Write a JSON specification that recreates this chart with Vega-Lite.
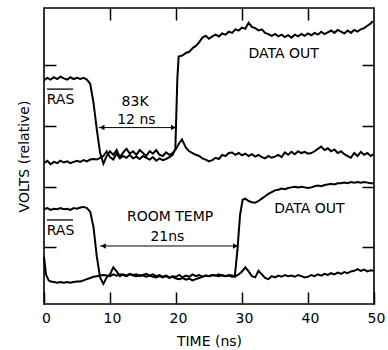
{
 "$schema": "https://vega.github.io/schema/vega-lite/v6.json",
 "width": 330, "height": 296,
 "autosize": {"type": "none"},
 "padding": {"left": 44, "top": 8, "right": 14, "bottom": 46},
 "background": "white",
 "config": {
  "view": {"stroke": "black", "strokeWidth": 1.6},
  "font": "DejaVu Sans",
  "axis": {"grid": false, "domain": false, "tickColor": "black", "tickWidth": 1.5, "tickSize": -12,
           "labelColor": "black", "labelFontSize": 14, "titleColor": "black", "titleFontSize": 14, "titleFontWeight": "normal"}
 },
 "datasets": {
  "traces": [
   {"s":"UR","t":0,"v":3.78},{"s":"UR","t":0.5,"v":3.82},{"s":"UR","t":1,"v":3.79},{"s":"UR","t":1.5,"v":3.83},{"s":"UR","t":2,"v":3.80},{"s":"UR","t":2.5,"v":3.84},{"s":"UR","t":3,"v":3.81},{"s":"UR","t":3.5,"v":3.79},{"s":"UR","t":4,"v":3.83},{"s":"UR","t":4.5,"v":3.80},{"s":"UR","t":5,"v":3.82},{"s":"UR","t":5.5,"v":3.80},{"s":"UR","t":6,"v":3.82},{"s":"UR","t":6.5,"v":3.79},{"s":"UR","t":7,"v":3.72},{"s":"UR","t":7.5,"v":3.40},{"s":"UR","t":8,"v":2.95},{"s":"UR","t":8.5,"v":2.55},{"s":"UR","t":9,"v":2.37},{"s":"UR","t":9.5,"v":2.50},{"s":"UR","t":10,"v":2.58},{"s":"UR","t":10.5,"v":2.52},{"s":"UR","t":11,"v":2.60},{"s":"UR","t":11.5,"v":2.48},{"s":"UR","t":12,"v":2.56},{"s":"UR","t":12.5,"v":2.62},{"s":"UR","t":13,"v":2.54},{"s":"UR","t":13.5,"v":2.58},{"s":"UR","t":14,"v":2.52},{"s":"UR","t":14.5,"v":2.60},{"s":"UR","t":15,"v":2.55},{"s":"UR","t":15.5,"v":2.50},{"s":"UR","t":16,"v":2.58},{"s":"UR","t":16.5,"v":2.54},{"s":"UR","t":17,"v":2.60},{"s":"UR","t":17.5,"v":2.52},{"s":"UR","t":18,"v":2.50},{"s":"UR","t":18.5,"v":2.56},{"s":"UR","t":19,"v":2.52},{"s":"UR","t":19.5,"v":2.55},{"s":"UR","t":20,"v":2.62},{"s":"UR","t":20.5,"v":2.72},{"s":"UR","t":20.9,"v":2.78},{"s":"UR","t":21.5,"v":2.64},{"s":"UR","t":22,"v":2.58},{"s":"UR","t":22.5,"v":2.55},{"s":"UR","t":23,"v":2.52},{"s":"UR","t":23.5,"v":2.50},{"s":"UR","t":24,"v":2.46},{"s":"UR","t":24.5,"v":2.44},{"s":"UR","t":25,"v":2.41},{"s":"UR","t":25.5,"v":2.43},{"s":"UR","t":26,"v":2.47},{"s":"UR","t":26.5,"v":2.45},{"s":"UR","t":27,"v":2.52},{"s":"UR","t":27.5,"v":2.50},{"s":"UR","t":28,"v":2.55},{"s":"UR","t":28.5,"v":2.56},{"s":"UR","t":29,"v":2.52},{"s":"UR","t":29.5,"v":2.55},{"s":"UR","t":30,"v":2.51},{"s":"UR","t":30.5,"v":2.54},{"s":"UR","t":31,"v":2.50},{"s":"UR","t":31.5,"v":2.53},{"s":"UR","t":32,"v":2.49},{"s":"UR","t":32.5,"v":2.52},{"s":"UR","t":33,"v":2.48},{"s":"UR","t":33.5,"v":2.46},{"s":"UR","t":34,"v":2.50},{"s":"UR","t":34.5,"v":2.47},{"s":"UR","t":35,"v":2.49},{"s":"UR","t":35.5,"v":2.52},{"s":"UR","t":36,"v":2.48},{"s":"UR","t":36.5,"v":2.56},{"s":"UR","t":37,"v":2.52},{"s":"UR","t":37.5,"v":2.57},{"s":"UR","t":38,"v":2.53},{"s":"UR","t":38.5,"v":2.58},{"s":"UR","t":39,"v":2.55},{"s":"UR","t":39.5,"v":2.57},{"s":"UR","t":40,"v":2.54},{"s":"UR","t":40.5,"v":2.55},{"s":"UR","t":41,"v":2.58},{"s":"UR","t":41.5,"v":2.62},{"s":"UR","t":42,"v":2.66},{"s":"UR","t":42.5,"v":2.60},{"s":"UR","t":43,"v":2.63},{"s":"UR","t":43.5,"v":2.58},{"s":"UR","t":44,"v":2.61},{"s":"UR","t":44.5,"v":2.55},{"s":"UR","t":45,"v":2.58},{"s":"UR","t":45.5,"v":2.53},{"s":"UR","t":46,"v":2.50},{"s":"UR","t":46.5,"v":2.47},{"s":"UR","t":47,"v":2.55},{"s":"UR","t":47.5,"v":2.50},{"s":"UR","t":48,"v":2.57},{"s":"UR","t":48.5,"v":2.52},{"s":"UR","t":49,"v":2.55},{"s":"UR","t":49.5,"v":2.50},{"s":"UR","t":49.9,"v":2.53},

   {"s":"UD","t":0,"v":2.38},{"s":"UD","t":0.5,"v":2.42},{"s":"UD","t":1,"v":2.36},{"s":"UD","t":1.5,"v":2.40},{"s":"UD","t":2,"v":2.38},{"s":"UD","t":2.5,"v":2.42},{"s":"UD","t":3,"v":2.39},{"s":"UD","t":3.5,"v":2.41},{"s":"UD","t":4,"v":2.38},{"s":"UD","t":4.5,"v":2.40},{"s":"UD","t":5,"v":2.42},{"s":"UD","t":5.5,"v":2.40},{"s":"UD","t":6,"v":2.43},{"s":"UD","t":6.5,"v":2.41},{"s":"UD","t":7,"v":2.44},{"s":"UD","t":7.5,"v":2.45},{"s":"UD","t":8,"v":2.44},{"s":"UD","t":8.5,"v":2.47},{"s":"UD","t":9,"v":2.50},{"s":"UD","t":9.5,"v":2.58},{"s":"UD","t":10,"v":2.48},{"s":"UD","t":10.5,"v":2.44},{"s":"UD","t":11,"v":2.54},{"s":"UD","t":11.5,"v":2.46},{"s":"UD","t":12,"v":2.50},{"s":"UD","t":12.5,"v":2.47},{"s":"UD","t":13,"v":2.52},{"s":"UD","t":13.5,"v":2.46},{"s":"UD","t":14,"v":2.49},{"s":"UD","t":14.5,"v":2.45},{"s":"UD","t":15,"v":2.50},{"s":"UD","t":15.5,"v":2.47},{"s":"UD","t":16,"v":2.44},{"s":"UD","t":16.5,"v":2.48},{"s":"UD","t":17,"v":2.42},{"s":"UD","t":17.5,"v":2.46},{"s":"UD","t":18,"v":2.43},{"s":"UD","t":18.5,"v":2.45},{"s":"UD","t":19,"v":2.48},{"s":"UD","t":19.5,"v":2.52},{"s":"UD","t":19.9,"v":2.62},{"s":"UD","t":20.2,"v":3.80},{"s":"UD","t":20.4,"v":4.18},{"s":"UD","t":21,"v":4.20},{"s":"UD","t":21.5,"v":4.24},{"s":"UD","t":22,"v":4.26},{"s":"UD","t":22.5,"v":4.32},{"s":"UD","t":23,"v":4.36},{"s":"UD","t":23.5,"v":4.42},{"s":"UD","t":24,"v":4.50},{"s":"UD","t":24.5,"v":4.53},{"s":"UD","t":25,"v":4.48},{"s":"UD","t":25.5,"v":4.52},{"s":"UD","t":26,"v":4.55},{"s":"UD","t":26.5,"v":4.52},{"s":"UD","t":27,"v":4.57},{"s":"UD","t":27.5,"v":4.55},{"s":"UD","t":28,"v":4.60},{"s":"UD","t":28.5,"v":4.58},{"s":"UD","t":29,"v":4.64},{"s":"UD","t":29.5,"v":4.62},{"s":"UD","t":30,"v":4.67},{"s":"UD","t":30.5,"v":4.65},{"s":"UD","t":31,"v":4.75},{"s":"UD","t":31.5,"v":4.68},{"s":"UD","t":32,"v":4.66},{"s":"UD","t":32.5,"v":4.62},{"s":"UD","t":33,"v":4.64},{"s":"UD","t":33.5,"v":4.58},{"s":"UD","t":34,"v":4.56},{"s":"UD","t":34.5,"v":4.53},{"s":"UD","t":35,"v":4.56},{"s":"UD","t":35.5,"v":4.52},{"s":"UD","t":36,"v":4.55},{"s":"UD","t":36.5,"v":4.51},{"s":"UD","t":37,"v":4.54},{"s":"UD","t":37.5,"v":4.50},{"s":"UD","t":38,"v":4.55},{"s":"UD","t":38.5,"v":4.52},{"s":"UD","t":39,"v":4.56},{"s":"UD","t":39.5,"v":4.53},{"s":"UD","t":40,"v":4.57},{"s":"UD","t":40.5,"v":4.54},{"s":"UD","t":41,"v":4.58},{"s":"UD","t":41.5,"v":4.55},{"s":"UD","t":42,"v":4.60},{"s":"UD","t":42.5,"v":4.56},{"s":"UD","t":43,"v":4.59},{"s":"UD","t":43.5,"v":4.62},{"s":"UD","t":44,"v":4.58},{"s":"UD","t":44.5,"v":4.63},{"s":"UD","t":45,"v":4.60},{"s":"UD","t":45.5,"v":4.57},{"s":"UD","t":46,"v":4.62},{"s":"UD","t":46.5,"v":4.58},{"s":"UD","t":47,"v":4.63},{"s":"UD","t":47.5,"v":4.60},{"s":"UD","t":48,"v":4.64},{"s":"UD","t":48.5,"v":4.66},{"s":"UD","t":49,"v":4.70},{"s":"UD","t":49.5,"v":4.74},{"s":"UD","t":49.8,"v":4.78},

   {"s":"LR","t":0,"v":1.60},{"s":"LR","t":0.5,"v":1.62},{"s":"LR","t":1,"v":1.59},{"s":"LR","t":1.5,"v":1.61},{"s":"LR","t":2,"v":1.60},{"s":"LR","t":2.5,"v":1.62},{"s":"LR","t":3,"v":1.60},{"s":"LR","t":3.5,"v":1.61},{"s":"LR","t":4,"v":1.59},{"s":"LR","t":4.5,"v":1.62},{"s":"LR","t":5,"v":1.61},{"s":"LR","t":5.5,"v":1.63},{"s":"LR","t":6,"v":1.64},{"s":"LR","t":6.5,"v":1.62},{"s":"LR","t":7,"v":1.56},{"s":"LR","t":7.5,"v":1.30},{"s":"LR","t":8,"v":0.80},{"s":"LR","t":8.5,"v":0.45},{"s":"LR","t":9,"v":0.34},{"s":"LR","t":9.5,"v":0.45},{"s":"LR","t":10,"v":0.50},{"s":"LR","t":10.5,"v":0.62},{"s":"LR","t":11,"v":0.55},{"s":"LR","t":11.5,"v":0.47},{"s":"LR","t":12,"v":0.50},{"s":"LR","t":12.5,"v":0.48},{"s":"LR","t":13,"v":0.51},{"s":"LR","t":13.5,"v":0.49},{"s":"LR","t":14,"v":0.50},{"s":"LR","t":14.5,"v":0.47},{"s":"LR","t":15,"v":0.49},{"s":"LR","t":15.5,"v":0.51},{"s":"LR","t":16,"v":0.48},{"s":"LR","t":16.5,"v":0.50},{"s":"LR","t":17,"v":0.47},{"s":"LR","t":17.5,"v":0.49},{"s":"LR","t":18,"v":0.46},{"s":"LR","t":18.5,"v":0.48},{"s":"LR","t":19,"v":0.45},{"s":"LR","t":19.5,"v":0.47},{"s":"LR","t":20,"v":0.46},{"s":"LR","t":20.5,"v":0.49},{"s":"LR","t":21,"v":0.45},{"s":"LR","t":21.5,"v":0.48},{"s":"LR","t":22,"v":0.46},{"s":"LR","t":22.5,"v":0.50},{"s":"LR","t":23,"v":0.47},{"s":"LR","t":23.5,"v":0.49},{"s":"LR","t":24,"v":0.46},{"s":"LR","t":24.5,"v":0.48},{"s":"LR","t":25,"v":0.47},{"s":"LR","t":25.5,"v":0.49},{"s":"LR","t":26,"v":0.48},{"s":"LR","t":26.5,"v":0.47},{"s":"LR","t":27,"v":0.49},{"s":"LR","t":27.5,"v":0.47},{"s":"LR","t":28,"v":0.48},{"s":"LR","t":28.5,"v":0.46},{"s":"LR","t":29,"v":0.47},{"s":"LR","t":29.5,"v":0.50},{"s":"LR","t":30,"v":0.55},{"s":"LR","t":30.5,"v":0.62},{"s":"LR","t":31,"v":0.55},{"s":"LR","t":31.5,"v":0.47},{"s":"LR","t":32,"v":0.45},{"s":"LR","t":32.5,"v":0.56},{"s":"LR","t":33,"v":0.50},{"s":"LR","t":33.5,"v":0.44},{"s":"LR","t":34,"v":0.42},{"s":"LR","t":34.5,"v":0.47},{"s":"LR","t":35,"v":0.45},{"s":"LR","t":35.5,"v":0.48},{"s":"LR","t":36,"v":0.46},{"s":"LR","t":36.5,"v":0.49},{"s":"LR","t":37,"v":0.47},{"s":"LR","t":37.5,"v":0.48},{"s":"LR","t":38,"v":0.46},{"s":"LR","t":38.5,"v":0.49},{"s":"LR","t":39,"v":0.47},{"s":"LR","t":39.5,"v":0.45},{"s":"LR","t":40,"v":0.46},{"s":"LR","t":40.5,"v":0.49},{"s":"LR","t":41,"v":0.47},{"s":"LR","t":41.5,"v":0.50},{"s":"LR","t":42,"v":0.48},{"s":"LR","t":42.5,"v":0.51},{"s":"LR","t":43,"v":0.49},{"s":"LR","t":43.5,"v":0.52},{"s":"LR","t":44,"v":0.50},{"s":"LR","t":44.5,"v":0.53},{"s":"LR","t":45,"v":0.51},{"s":"LR","t":45.5,"v":0.54},{"s":"LR","t":46,"v":0.52},{"s":"LR","t":46.5,"v":0.55},{"s":"LR","t":47,"v":0.56},{"s":"LR","t":47.5,"v":0.59},{"s":"LR","t":48,"v":0.56},{"s":"LR","t":48.5,"v":0.58},{"s":"LR","t":49,"v":0.55},{"s":"LR","t":49.5,"v":0.57},{"s":"LR","t":49.9,"v":0.56},

   {"s":"LD","t":0,"v":0.80},{"s":"LD","t":0.3,"v":0.50},{"s":"LD","t":0.7,"v":0.40},{"s":"LD","t":1,"v":0.38},{"s":"LD","t":1.5,"v":0.37},{"s":"LD","t":2,"v":0.36},{"s":"LD","t":2.5,"v":0.37},{"s":"LD","t":3,"v":0.36},{"s":"LD","t":3.5,"v":0.37},{"s":"LD","t":4,"v":0.36},{"s":"LD","t":4.5,"v":0.37},{"s":"LD","t":5,"v":0.38},{"s":"LD","t":5.5,"v":0.38},{"s":"LD","t":6,"v":0.40},{"s":"LD","t":6.5,"v":0.42},{"s":"LD","t":7,"v":0.44},{"s":"LD","t":7.5,"v":0.46},{"s":"LD","t":8,"v":0.47},{"s":"LD","t":8.5,"v":0.48},{"s":"LD","t":9,"v":0.49},{"s":"LD","t":9.5,"v":0.48},{"s":"LD","t":10,"v":0.47},{"s":"LD","t":10.5,"v":0.50},{"s":"LD","t":11,"v":0.48},{"s":"LD","t":11.5,"v":0.50},{"s":"LD","t":12,"v":0.49},{"s":"LD","t":12.5,"v":0.47},{"s":"LD","t":13,"v":0.50},{"s":"LD","t":13.5,"v":0.48},{"s":"LD","t":14,"v":0.47},{"s":"LD","t":14.5,"v":0.49},{"s":"LD","t":15,"v":0.48},{"s":"LD","t":15.5,"v":0.46},{"s":"LD","t":16,"v":0.48},{"s":"LD","t":16.5,"v":0.46},{"s":"LD","t":17,"v":0.45},{"s":"LD","t":17.5,"v":0.47},{"s":"LD","t":18,"v":0.45},{"s":"LD","t":18.5,"v":0.47},{"s":"LD","t":19,"v":0.44},{"s":"LD","t":19.5,"v":0.46},{"s":"LD","t":20,"v":0.43},{"s":"LD","t":20.5,"v":0.42},{"s":"LD","t":21,"v":0.44},{"s":"LD","t":21.5,"v":0.41},{"s":"LD","t":22,"v":0.43},{"s":"LD","t":22.5,"v":0.40},{"s":"LD","t":23,"v":0.42},{"s":"LD","t":23.5,"v":0.44},{"s":"LD","t":24,"v":0.46},{"s":"LD","t":24.5,"v":0.48},{"s":"LD","t":25,"v":0.47},{"s":"LD","t":25.5,"v":0.49},{"s":"LD","t":26,"v":0.48},{"s":"LD","t":26.5,"v":0.50},{"s":"LD","t":27,"v":0.48},{"s":"LD","t":27.5,"v":0.47},{"s":"LD","t":28,"v":0.49},{"s":"LD","t":28.5,"v":0.48},{"s":"LD","t":28.9,"v":0.46},{"s":"LD","t":29.3,"v":0.90},{"s":"LD","t":29.7,"v":1.50},{"s":"LD","t":30.1,"v":1.76},{"s":"LD","t":30.5,"v":1.78},{"s":"LD","t":31,"v":1.74},{"s":"LD","t":31.5,"v":1.72},{"s":"LD","t":32,"v":1.71},{"s":"LD","t":32.5,"v":1.74},{"s":"LD","t":33,"v":1.78},{"s":"LD","t":33.5,"v":1.82},{"s":"LD","t":34,"v":1.86},{"s":"LD","t":34.5,"v":1.89},{"s":"LD","t":35,"v":1.92},{"s":"LD","t":35.5,"v":1.93},{"s":"LD","t":36,"v":1.95},{"s":"LD","t":36.5,"v":1.94},{"s":"LD","t":37,"v":1.96},{"s":"LD","t":37.5,"v":1.97},{"s":"LD","t":38,"v":1.98},{"s":"LD","t":38.5,"v":1.97},{"s":"LD","t":39,"v":1.98},{"s":"LD","t":39.5,"v":1.97},{"s":"LD","t":40,"v":1.96},{"s":"LD","t":40.5,"v":1.97},{"s":"LD","t":41,"v":1.99},{"s":"LD","t":41.5,"v":2.00},{"s":"LD","t":42,"v":1.99},{"s":"LD","t":42.5,"v":2.01},{"s":"LD","t":43,"v":2.02},{"s":"LD","t":43.5,"v":2.03},{"s":"LD","t":44,"v":2.02},{"s":"LD","t":44.5,"v":2.04},{"s":"LD","t":45,"v":2.04},{"s":"LD","t":45.5,"v":2.05},{"s":"LD","t":46,"v":2.04},{"s":"LD","t":46.5,"v":2.06},{"s":"LD","t":47,"v":2.05},{"s":"LD","t":47.5,"v":2.06},{"s":"LD","t":48,"v":2.05},{"s":"LD","t":48.5,"v":2.06},{"s":"LD","t":49,"v":2.05},{"s":"LD","t":49.5,"v":2.04},{"s":"LD","t":49.9,"v":2.04}
  ],
  "arrows": [
   {"a":8.3,"b":20.1,"y":2.98},
   {"a":8.5,"b":29.5,"y":0.98}
  ],
  "heads": [
   {"t":8.8,"y":2.98,"dir":"L"},{"t":19.6,"y":2.98,"dir":"R"},
   {"t":9.0,"y":0.98,"dir":"L"},{"t":29.0,"y":0.98,"dir":"R"}
  ],
  "bars": [
   {"a":0.45,"b":4.4,"y":3.63},
   {"a":0.45,"b":4.4,"y":1.42}
  ],
  "labels": [
   {"t":2.5,"y":3.45,"txt":"RAS"},
   {"t":13.8,"y":3.41,"txt":"83K"},
   {"t":14.0,"y":3.11,"txt":"12 ns"},
   {"t":36.3,"y":4.22,"txt":"DATA OUT"},
   {"t":2.5,"y":1.23,"txt":"RAS"},
   {"t":19.1,"y":1.47,"txt":"ROOM TEMP"},
   {"t":18.7,"y":1.14,"txt":"21ns"},
   {"t":40.2,"y":1.61,"txt":"DATA OUT"}
  ]
 },
 "layer": [
  {
   "data": {"name": "traces"},
   "mark": {"type": "line", "color": "black", "strokeWidth": 2},
   "encoding": {
    "x": {"field": "t", "type": "quantitative", "scale": {"domain": [0, 50], "nice": false, "zero": false},
          "axis": {"orient": "bottom", "values": [0, 10, 20, 30, 40, 50], "format": "d", "labelPadding": 19, "labelOffset": 2, "labelFlush": false, "title": "TIME (ns)", "titlePadding": 9}},
    "y": {"field": "v", "type": "quantitative", "scale": {"domain": [0, 5], "nice": false, "zero": false},
          "axis": {"orient": "left", "values": [0.96, 1.98, 3.01, 4.04], "labels": false, "title": "VOLTS (relative)", "titlePadding": 12}},
    "detail": {"field": "s"}
   }
  },
  {
   "data": {"name": "arrows"},
   "mark": {"type": "rule", "color": "black", "strokeWidth": 1},
   "encoding": {
    "x": {"field": "a", "type": "quantitative", "axis": {"orient": "top", "values": [10, 20, 30, 40], "labels": false, "title": null}},
    "x2": {"field": "b"},
    "y": {"field": "y", "type": "quantitative", "axis": {"orient": "right", "values": [0.96, 1.98, 3.01, 4.04], "labels": false, "title": null}}
   }
  },
  {
   "data": {"name": "heads"},
   "mark": {"type": "point", "filled": true, "color": "black", "opacity": 1, "size": 30},
   "encoding": {
    "x": {"field": "t", "type": "quantitative", "axis": null},
    "y": {"field": "y", "type": "quantitative", "axis": null},
    "shape": {"field": "dir", "type": "nominal", "scale": {"domain": ["L", "R"], "range": ["triangle-left", "triangle-right"]}, "legend": null}
   }
  },
  {
   "data": {"name": "bars"},
   "mark": {"type": "rule", "color": "black", "strokeWidth": 1.3},
   "encoding": {
    "x": {"field": "a", "type": "quantitative", "axis": null},
    "x2": {"field": "b"},
    "y": {"field": "y", "type": "quantitative", "axis": null}
   }
  },
  {
   "data": {"name": "labels"},
   "mark": {"type": "text", "color": "black", "fontSize": 14, "align": "center", "baseline": "middle"},
   "encoding": {
    "x": {"field": "t", "type": "quantitative", "axis": null},
    "y": {"field": "y", "type": "quantitative", "axis": null},
    "text": {"field": "txt"}
   }
  }
 ],
 "resolve": {"axis": {"x": "independent", "y": "independent"}}
}
